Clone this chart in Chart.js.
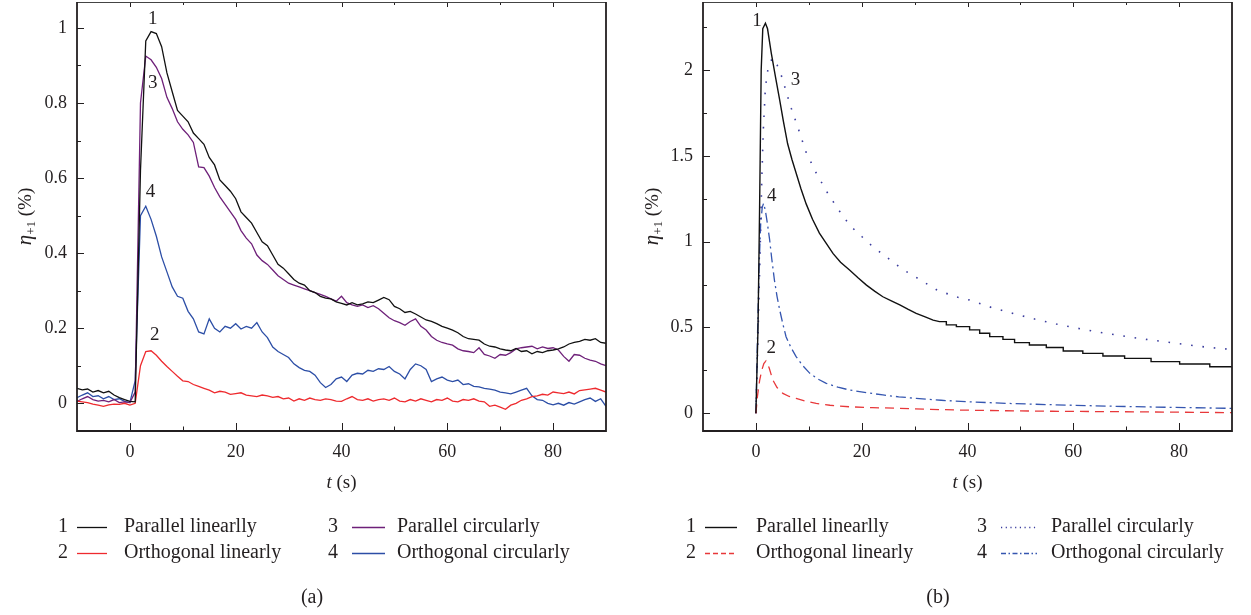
<!DOCTYPE html>
<html>
<head>
<meta charset="utf-8">
<script src="https://cdn.jsdelivr.net/npm/chart.js@4.4.1/dist/chart.umd.min.js"></script>
<style>
  html, body { margin: 0; padding: 0; background: #fff; }
  #wrap { position: relative; width: 1251px; height: 615px; }
  .panel { position: absolute; top: 0; width: 625px; height: 615px; }
</style>
</head>
<body>
<div id="wrap">
  <div class="panel" style="left:0"><canvas id="chartA" width="625" height="615"></canvas></div>
  <div class="panel" style="left:626px"><canvas id="chartB" width="625" height="615"></canvas></div>
</div>
<script>
// ---- measured response, panel (a): one sample per second ----
const timeA = [-10, -9, -8, -7, -6, -5, -4, -3, -2, -1, 0,
  1, 2, 3, 4, 5, 6, 7, 8, 9, 10, 11, 12, 13, 14, 15, 16, 17, 18, 19, 20,
  21, 22, 23, 24, 25, 26, 27, 28, 29, 30, 31, 32, 33, 34, 35, 36, 37, 38, 39, 40,
  41, 42, 43, 44, 45, 46, 47, 48, 49, 50, 51, 52, 53, 54, 55, 56, 57, 58, 59, 60,
  61, 62, 63, 64, 65, 66, 67, 68, 69, 70, 71, 72, 73, 74, 75, 76, 77, 78, 79, 80,
  81, 82, 83, 84, 85, 86, 87, 88, 89, 90];

const parLinA = [0.040, 0.036, 0.038, 0.030, 0.034, 0.028, 0.032, 0.022, 0.015, 0.010, 0.005,
  0.004, 0.62, 0.965, 0.99, 0.985, 0.95, 0.88, 0.83, 0.78, 0.765,
  0.75, 0.72, 0.705, 0.69, 0.655, 0.635, 0.595, 0.58, 0.565, 0.545,
  0.51, 0.495, 0.48, 0.455, 0.43, 0.42, 0.395, 0.37, 0.36, 0.345,
  0.33, 0.32, 0.315, 0.30, 0.295, 0.285, 0.28, 0.278, 0.27, 0.266,
  0.262, 0.268, 0.262, 0.265, 0.270, 0.268, 0.275, 0.282, 0.276, 0.258,
  0.252, 0.242, 0.245, 0.238, 0.23, 0.222, 0.218, 0.212, 0.205, 0.200,
  0.195, 0.188, 0.178, 0.172, 0.170, 0.168, 0.158, 0.152, 0.150, 0.145,
  0.142, 0.140, 0.146, 0.138, 0.140, 0.132, 0.138, 0.135, 0.140, 0.142,
  0.145, 0.150, 0.158, 0.162, 0.165, 0.170, 0.168, 0.172, 0.162, 0.160];

const ortLinA = [0.006, 0.004, 0.002, -0.002, -0.005, -0.008, -0.004, -0.002, -0.003, 0.0, -0.005,
  0.0, 0.10, 0.138, 0.14, 0.128, 0.112, 0.098, 0.085, 0.072, 0.06,
  0.058, 0.05, 0.045, 0.04, 0.035, 0.028, 0.032, 0.03, 0.024, 0.026,
  0.028, 0.022, 0.02, 0.018, 0.022, 0.02, 0.016, 0.018, 0.012, 0.014,
  0.006, 0.012, 0.008, 0.014, 0.01, 0.008, 0.012, 0.01, 0.006, 0.005,
  0.012, 0.018, 0.01, 0.008, 0.012, 0.006, 0.01, 0.012, 0.008, 0.014,
  0.006, 0.004, 0.01, 0.006, 0.012, 0.008, 0.004, 0.01, 0.008, 0.014,
  0.006, 0.004, 0.01, 0.008, 0.012, 0.006, 0.004, -0.008, -0.005, -0.01,
  -0.016, -0.005, 0.0, 0.008, 0.012, 0.018, 0.02, 0.024, 0.022, 0.03,
  0.028, 0.026, 0.03, 0.025, 0.034, 0.036, 0.038, 0.04, 0.035, 0.03];

const parCirA = [0.005, 0.012, 0.018, 0.010, 0.006, 0.008, 0.004, 0.010, 0.002, 0.004, 0.002,
  0.03, 0.80, 0.925, 0.915, 0.895, 0.865, 0.815, 0.785, 0.75, 0.73,
  0.715, 0.695, 0.63, 0.628, 0.605, 0.575, 0.55, 0.53, 0.51, 0.49,
  0.46, 0.44, 0.425, 0.395, 0.38, 0.37, 0.355, 0.34, 0.33, 0.32,
  0.315, 0.31, 0.305, 0.30, 0.295, 0.29, 0.285, 0.278, 0.272, 0.285,
  0.268, 0.262, 0.258, 0.262, 0.255, 0.26, 0.252, 0.24, 0.228, 0.22,
  0.215, 0.208, 0.218, 0.225, 0.205, 0.195, 0.178, 0.168, 0.162, 0.158,
  0.155, 0.145, 0.14, 0.138, 0.135, 0.148, 0.13, 0.126, 0.12, 0.13,
  0.128, 0.135, 0.145, 0.148, 0.15, 0.152, 0.145, 0.15, 0.146, 0.148,
  0.142, 0.125, 0.112, 0.13, 0.128, 0.12, 0.115, 0.112, 0.105, 0.10];

const ortCirA = [0.015, 0.022, 0.028, 0.018, 0.020, 0.012, 0.018, 0.010, 0.012, 0.005, 0.002,
  0.06, 0.50, 0.525, 0.49, 0.445, 0.39, 0.35, 0.31, 0.285, 0.28,
  0.245, 0.225, 0.19, 0.185, 0.225, 0.2, 0.19, 0.205, 0.2, 0.212,
  0.198, 0.205, 0.2, 0.215, 0.19, 0.175, 0.15, 0.138, 0.13, 0.122,
  0.105, 0.095, 0.088, 0.085, 0.075, 0.055, 0.042, 0.05, 0.065, 0.07,
  0.058, 0.075, 0.08, 0.078, 0.088, 0.085, 0.092, 0.09, 0.098, 0.085,
  0.078, 0.065, 0.09, 0.105, 0.1, 0.09, 0.058, 0.065, 0.07, 0.062,
  0.058, 0.062, 0.05, 0.052, 0.045, 0.044, 0.04, 0.038, 0.035, 0.03,
  0.028, 0.025, 0.03, 0.035, 0.04, 0.02, 0.01, 0.008, 0.0, -0.004,
  0.0, -0.005, 0.002, -0.002, 0.004, 0.01, 0.014, 0.005, 0.012, -0.008];

// ---- simulated response, panel (b) ----
const parLinTB = [0, 0.4, 0.7, 1.0, 1.3, 1.8, 2.2, 2.9, 3.7, 4.5, 5.2, 6.0, 6.8, 7.6, 8.5, 9.5,
  10.7, 12.0, 13.3, 14.6, 16.0, 17.7, 19.3, 20.9, 22.5, 24.0, 25.6, 27.2, 28.8, 30.3, 32.0, 33.5, 34.7];
const parLinVB = [0, 0.5, 1.2, 2.0, 2.24, 2.272, 2.24, 2.10, 1.96, 1.825, 1.70, 1.57, 1.48, 1.40, 1.31, 1.22,
  1.13, 1.05, 0.99, 0.93, 0.88, 0.835, 0.79, 0.747, 0.71, 0.679, 0.655, 0.631, 0.605, 0.582, 0.562, 0.543, 0.534];
// the tail of curve 1 is a staircase: plateau end times and levels
const parLinStepEndB = [36.0, 37.9, 40.4, 42.3, 44.2, 46.7, 48.9, 51.7, 54.9, 58.1, 61.8, 65.6, 69.7, 74.7, 80.1, 85.8, 90];
const parLinStepLevelB = [0.534, 0.515, 0.505, 0.486, 0.466, 0.447, 0.431, 0.412, 0.398, 0.383, 0.363, 0.349, 0.334, 0.32, 0.301, 0.287, 0.271];

const ortLinTB = [0, 0.3, 0.7, 1.1, 1.5, 1.9, 2.5, 3.2, 4.0, 5.1, 6.3, 7.6, 9.5, 11.4, 14, 17.7, 22, 27.2, 33, 38.5, 47.3, 56, 66.2, 78, 90];
const ortLinVB = [0, 0.10, 0.19, 0.25, 0.29, 0.305, 0.265, 0.194, 0.15, 0.116, 0.098, 0.087, 0.07, 0.058, 0.047, 0.038, 0.033, 0.029, 0.023, 0.019, 0.015, 0.012, 0.010, 0.007, 0.004];

const parCirTB = [0, 0.4, 0.8, 1.1, 1.4, 1.8, 2.3, 3.1, 4.0, 4.9, 6.05, 6.7, 8.1, 9.5, 11.4, 13.7, 16.4, 18, 20, 22.1,
  24.2, 26.2, 28.2, 30.3, 34.4, 38.2, 40.4, 44.5, 48.6, 52.7, 56.8, 60.9, 65, 69.1, 73.2, 77.3, 81.4, 85.5, 90];
const parCirVB = [0, 0.45, 0.95, 1.35, 1.65, 1.9, 2.01, 2.07, 2.03, 1.96, 1.84, 1.776, 1.65, 1.52, 1.40, 1.275, 1.15, 1.087, 1.03, 0.97,
  0.922, 0.874, 0.83, 0.792, 0.715, 0.676, 0.66, 0.617, 0.582, 0.549, 0.52, 0.495, 0.472, 0.452, 0.433, 0.417, 0.40, 0.384, 0.372];

const ortCirTB = [0, 0.3, 0.6, 0.9, 1.2, 1.45, 1.8, 2.2, 2.6, 3.0, 3.5, 4.0, 4.5, 5.1, 5.7, 6.6, 7.6, 8.8, 10.2, 11.7,
  13.3, 15.5, 17.7, 21, 24, 27, 30.3, 35, 39.8, 47.3, 56, 66.2, 78, 90];
const ortCirVB = [0, 0.45, 0.85, 1.1, 1.2, 1.223, 1.18, 1.10, 1.01, 0.90, 0.776, 0.68, 0.602, 0.52, 0.446, 0.385, 0.33, 0.28, 0.233, 0.2,
  0.175, 0.152, 0.136, 0.12, 0.107, 0.096, 0.087, 0.076, 0.068, 0.058, 0.05, 0.042, 0.035, 0.029];

// ---- axes and legend text ----
const xMajor = [0, 20, 40, 60, 80];
const xMinor = [10, 30, 50, 70];
const yMajorA = [0, 0.2, 0.4, 0.6, 0.8, 1];
const yMinorA = [0.1, 0.3, 0.5, 0.7, 0.9];
const yMajorB = [0, 0.5, 1, 1.5, 2];
const yMinorB = [0.25, 0.75, 1.25, 1.75, 2.25];
const seriesNames = ['Parallel linearlly', 'Orthogonal linearly', 'Parallel circularly', 'Orthogonal circularly'];

const SERIF = '"Liberation Serif", "DejaVu Serif", serif';
const INK = '#231f20';

function pts(ts, vs) {
  return ts.map((t, i) => ({ x: t, y: vs[i] }));
}

function staircase(ts, vs, ends, levels) {
  const out = pts(ts, vs);
  ends.forEach((e, i) => {
    out.push({ x: e, y: levels[i] });
    if (i + 1 < levels.length) out.push({ x: e, y: levels[i + 1] });
  });
  return out;
}

// frame, inward ticks, curve numbers, axis titles, legend and caption
const decor = {
  id: 'decor',
  afterDraw(chart, args, o) {
    const ctx = chart.ctx;
    const a = chart.chartArea;
    const xs = chart.scales.x, ys = chart.scales.y;
    ctx.save();

    // inward tick marks
    ctx.strokeStyle = INK;
    ctx.lineWidth = 1;
    ctx.beginPath();
    xs.ticks.forEach(t => {
      const px = Math.round(xs.getPixelForValue(t.value)) + 0.5;
      const big = xMajor.includes(t.value);
      ctx.moveTo(px, a.bottom); ctx.lineTo(px, a.bottom - (big ? 8 : 4.5));
      ctx.moveTo(px, a.top); ctx.lineTo(px, a.top + (big ? 5 : 3));
    });
    ys.ticks.forEach(t => {
      const py = Math.round(ys.getPixelForValue(t.value)) + 0.5;
      const big = o.yMajor.includes(t.value);
      ctx.moveTo(a.left, py); ctx.lineTo(a.left + (big ? 7 : 4), py);
    });
    ctx.stroke();

    // box
    ctx.lineWidth = 1.2;
    ctx.strokeStyle = '#444';
    ctx.beginPath();
    ctx.moveTo(a.left, a.top + 0.5); ctx.lineTo(a.right, a.top + 0.5);
    ctx.stroke();
    ctx.lineWidth = 1.8;
    ctx.strokeStyle = INK;
    ctx.beginPath();
    ctx.moveTo(a.left, a.top); ctx.lineTo(a.left, a.bottom); ctx.lineTo(a.right, a.bottom); ctx.lineTo(a.right, a.top);
    ctx.stroke();

    // curve numbers next to the peaks
    ctx.fillStyle = INK;
    ctx.font = '19px ' + SERIF;
    ctx.textAlign = 'center';
    ctx.textBaseline = 'middle';
    o.tags.forEach(g => {
      ctx.fillText(g.s, xs.getPixelForValue(g.t), ys.getPixelForValue(g.v));
    });

    // y title: eta_{+1} (%)
    ctx.save();
    ctx.translate(o.yTitleX, (a.top + a.bottom) / 2);
    ctx.rotate(-Math.PI / 2);
    ctx.textAlign = 'left';
    ctx.textBaseline = 'alphabetic';
    const f1 = 'italic 21px ' + SERIF, f2 = '13px ' + SERIF, f3 = '19px ' + SERIF;
    ctx.font = f1; const w1 = ctx.measureText('\u03b7').width;
    ctx.font = f2; const w2 = ctx.measureText('+1').width;
    ctx.font = f3; const w3 = ctx.measureText(' (%)').width;
    let x = -(w1 + w2 + w3) / 2;
    ctx.font = f1; ctx.fillText('\u03b7', x, 6); x += w1;
    ctx.font = f2; ctx.fillText('+1', x, 10); x += w2;
    ctx.font = f3; ctx.fillText(' (%)', x, 6);
    ctx.restore();

    // x title: t (s)
    ctx.textBaseline = 'middle';
    ctx.textAlign = 'left';
    const g1 = 'italic 19px ' + SERIF, g2 = '19px ' + SERIF;
    ctx.font = g1; const v1 = ctx.measureText('t').width;
    ctx.font = g2; const v2 = ctx.measureText(' (s)').width;
    let tx = (a.left + a.right) / 2 - (v1 + v2) / 2;
    ctx.font = g1; ctx.fillText('t', tx, 483);
    ctx.font = g2; ctx.fillText(' (s)', tx + v1, 483);

    // legend: numbers 1,2 in the first column, 3,4 in the second
    const rows = [527, 553];
    chart.data.datasets.forEach((ds, i) => {
      const col = o.cols[Math.floor(i / 2)];
      const y = rows[i % 2];
      ctx.fillStyle = INK;
      ctx.font = '20px ' + SERIF;
      ctx.textAlign = 'center';
      ctx.fillText(String(i + 1), col.num, y);
      ctx.strokeStyle = ds.borderColor;
      ctx.lineWidth = ds.borderWidth;
      ctx.setLineDash(o.legendDash[i]);
      ctx.lineCap = 'butt';
      ctx.beginPath();
      ctx.moveTo(col.x0, y + 0.5); ctx.lineTo(col.x1, y + 0.5);
      ctx.stroke();
      ctx.setLineDash([]);
      ctx.textAlign = 'left';
      ctx.fillText(seriesNames[i], col.text, y);
    });

    ctx.textAlign = 'center';
    ctx.font = '20px ' + SERIF;
    ctx.fillText(o.caption, 312, 598);
    ctx.restore();
  }
};

function scales(yMin, yMax, yMajor, yMinor) {
  const font = { family: SERIF, size: 18 };
  return {
    x: {
      type: 'linear', min: -10, max: 90,
      afterBuildTicks: s => { s.ticks = xMajor.concat(xMinor).sort((p, q) => p - q).map(v => ({ value: v })); },
      afterFit: s => { s.height = 40; s.paddingLeft = 0; s.paddingRight = 0; },
      grid: { display: false, drawTicks: false },
      border: { display: false },
      ticks: { padding: 10, autoSkip: false, maxRotation: 0, color: INK, font,
        callback: v => xMajor.includes(v) ? String(v) : '' }
    },
    y: {
      type: 'linear', min: yMin, max: yMax,
      afterBuildTicks: s => { s.ticks = yMajor.concat(yMinor).sort((p, q) => p - q).map(v => ({ value: v })); },
      afterFit: s => { s.width = 77; s.paddingTop = 0; s.paddingBottom = 0; },
      grid: { display: false, drawTicks: false },
      border: { display: false },
      ticks: { padding: 10, autoSkip: false, color: INK, font,
        callback: v => yMajor.includes(v) ? String(v) : '' }
    }
  };
}

const common = {
  responsive: false,
  animation: false,
  layout: { padding: { left: 0, top: 2, right: 19, bottom: 144 } },
  elements: { point: { radius: 0 }, line: { tension: 0 } },
  events: []
};

new Chart(document.getElementById('chartA'), {
  type: 'line',
  data: {
    datasets: [
      { data: pts(timeA, parLinA), borderColor: '#111111', borderWidth: 1.3 },
      { data: pts(timeA, ortLinA), borderColor: '#ee2a2e', borderWidth: 1.3 },
      { data: pts(timeA, parCirA), borderColor: '#6e2079', borderWidth: 1.3 },
      { data: pts(timeA, ortCirA), borderColor: '#2c4ea6', borderWidth: 1.3 }
    ]
  },
  options: Object.assign({}, common, {
    scales: scales(-0.0738, 1.069, yMajorA, yMinorA),
    plugins: {
      legend: { display: false },
      tooltip: { enabled: false },
      decor: {
        yMajor: yMajorA,
        yTitleX: 25,
        caption: '(a)',
        tags: [{ s: '1', t: 4.3, v: 1.025 }, { s: '2', t: 4.7, v: 0.182 }, { s: '3', t: 4.3, v: 0.853 }, { s: '4', t: 3.9, v: 0.562 }],
        cols: [{ num: 63, x0: 77, x1: 107, text: 124 }, { num: 333, x0: 352, x1: 385, text: 397 }],
        legendDash: [[], [], [], []]
      }
    }
  }),
  plugins: [decor]
});

new Chart(document.getElementById('chartB'), {
  type: 'line',
  data: {
    datasets: [
      { data: staircase(parLinTB, parLinVB, parLinStepEndB, parLinStepLevelB), borderColor: '#111111', borderWidth: 1.4 },
      { data: pts(ortLinTB, ortLinVB), borderColor: '#e8383a', borderWidth: 1.3, borderDash: [9, 6] },
      { data: pts(parCirTB, parCirVB), borderColor: '#3b3d9e', borderWidth: 1.6, borderDash: [1.6, 9.8] },
      { data: pts(ortCirTB, ortCirVB), borderColor: '#3556b0', borderWidth: 1.3, borderDash: [10, 4, 2, 4] }
    ]
  },
  options: Object.assign({}, common, {
    scales: scales(-0.103, 2.396, yMajorB, yMinorB),
    plugins: {
      legend: { display: false },
      tooltip: { enabled: false },
      decor: {
        yMajor: yMajorB,
        yTitleX: 26,
        caption: '(b)',
        tags: [{ s: '1', t: 0.2, v: 2.287 }, { s: '2', t: 2.9, v: 0.379 }, { s: '3', t: 7.5, v: 1.94 }, { s: '4', t: 3.0, v: 1.266 }],
        cols: [{ num: 65, x0: 79, x1: 111, text: 130 }, { num: 356, x0: 375, x1: 411, text: 425 }],
        legendDash: [[], [5, 3], [1.2, 3.5], [5, 2.5, 1.5, 2.5]]
      }
    }
  }),
  plugins: [decor]
});
</script>
</body>
</html>
